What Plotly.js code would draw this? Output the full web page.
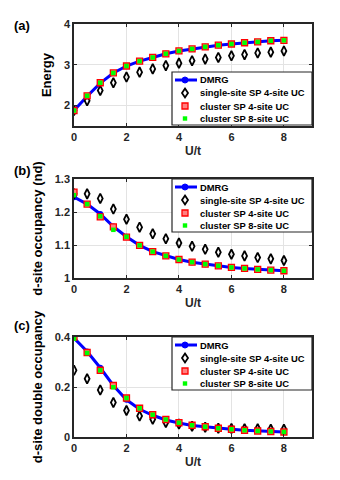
<!DOCTYPE html>
<html>
<head>
<meta charset="utf-8">
<script src="https://cdn.plot.ly/plotly-3.0.1.min.js"></script>
<style>
  body { margin: 0; background: #fff; }
  #grafico { width: 340px; height: 480px; }
</style>
</head>
<body>
<div id="grafico"></div>
<script>
// U/t values shared by every panel
const U = [0, 0.5, 1, 1.5, 2, 2.5, 3, 3.5, 4, 4.5, 5, 5.5, 6, 6.5, 7, 7.5, 8];

// (a) Energy
const energyDMRG   = [1.88, 2.23, 2.55, 2.80, 2.97, 3.09, 3.18, 3.27, 3.34, 3.39, 3.44, 3.48, 3.51, 3.54, 3.56, 3.59, 3.60];
const energySingle = [1.88, 2.12, 2.37, 2.56, 2.70, 2.82, 2.90, 2.98, 3.04, 3.10, 3.14, 3.18, 3.22, 3.25, 3.29, 3.31, 3.34];
const energyC4     = [1.88, 2.24, 2.56, 2.80, 2.97, 3.09, 3.18, 3.27, 3.34, 3.39, 3.44, 3.48, 3.51, 3.54, 3.56, 3.59, 3.60];
const energyC8     = [1.88, 2.24, 2.56, 2.80, 2.97, 3.09, 3.18, 3.27, 3.34, 3.39, 3.44, 3.48, 3.51, 3.54, 3.56, 3.59, 3.60];

// (b) d-site occupancy
const ndDMRG   = [1.245, 1.224, 1.194, 1.156, 1.125, 1.099, 1.080, 1.067, 1.056, 1.048, 1.042, 1.037, 1.032, 1.029, 1.026, 1.024, 1.022];
const ndSingle = [1.255, 1.255, 1.241, 1.209, 1.178, 1.154, 1.134, 1.119, 1.106, 1.096, 1.087, 1.078, 1.072, 1.067, 1.062, 1.058, 1.053];
const ndC4     = [1.260, 1.224, 1.185, 1.155, 1.124, 1.099, 1.080, 1.067, 1.056, 1.048, 1.042, 1.037, 1.032, 1.029, 1.026, 1.024, 1.022];
const ndC8     = [1.251, 1.224, 1.187, 1.146, 1.125, 1.099, 1.080, 1.067, 1.056, 1.048, 1.042, 1.037, 1.032, 1.029, 1.026, 1.024, 1.022];

// (c) d-site double occupancy
const dDMRG   = [0.396, 0.342, 0.277, 0.206, 0.149, 0.111, 0.087, 0.068, 0.056, 0.046, 0.041, 0.035, 0.031, 0.027, 0.024, 0.022, 0.020];
const dSingle = [0.267, 0.233, 0.188, 0.138, 0.106, 0.084, 0.071, 0.058, 0.052, 0.043, 0.039, 0.035, 0.034, 0.033, 0.033, 0.031, 0.031];
const dC4     = [0.400, 0.338, 0.267, 0.206, 0.156, 0.115, 0.089, 0.070, 0.057, 0.047, 0.041, 0.035, 0.031, 0.027, 0.024, 0.022, 0.020];
const dC8     = [0.393, 0.336, 0.267, 0.199, 0.156, 0.115, 0.089, 0.070, 0.057, 0.047, 0.041, 0.035, 0.031, 0.027, 0.024, 0.022, 0.020];

const names = ['DMRG', 'single-site SP 4-site UC', 'cluster SP 4-site UC', 'cluster SP 8-site UC'];
const FONT = 'Liberation Sans, Arial, sans-serif';
const W = 340, H = 480;

function panel(n, ys) {
  const sfx = n === 1 ? '' : String(n);
  const common = { x: U, xaxis: 'x' + sfx, yaxis: 'y' + sfx, showlegend: false, type: 'scatter' };
  return [
    Object.assign({}, common, {
      y: ys[0], name: names[0], mode: 'lines+markers',
      line: { color: '#0000ff', width: 3 },
      marker: { color: '#0000ff', size: 6, symbol: 'circle' }
    }),
    Object.assign({}, common, {
      y: ys[1], name: names[1], mode: 'markers',
      marker: { color: '#000000', size: 7, symbol: 'diamond-tall-open', line: { width: 1.8, color: '#000' } }
    }),
    Object.assign({}, common, {
      y: ys[2], name: names[2], mode: 'markers',
      marker: { color: '#ff8080', size: 6, symbol: 'square', line: { width: 1.3, color: '#ff0000' } }
    }),
    Object.assign({}, common, {
      y: ys[3], name: names[3], mode: 'markers',
      marker: { color: '#00ff00', size: 4.5, symbol: 'square' }
    })
  ];
}

const data = [].concat(
  panel(1, [energyDMRG, energySingle, energyC4, energyC8]),
  panel(2, [ndDMRG, ndSingle, ndC4, ndC8]),
  panel(3, [dDMRG, dSingle, dC4, dC8])
);

const xBase = {
  range: [0, 9.07], tickvals: [0, 2, 4, 6, 8], showline: true, mirror: 'allticks',
  linecolor: '#262626', linewidth: 1.5, ticks: 'inside', ticklen: 3, tickcolor: '#262626',
  showgrid: true, gridcolor: '#e3e3e3', zeroline: false,
  tickfont: { family: FONT, size: 11, color: '#262626', weight: 'bold' },
  title: { text: 'U/t', standoff: 5, font: { family: FONT, size: 12, color: '#262626', weight: 'bold' } }
};
function yAxis(domain, range, tickvals, ticktext, title, anchor) {
  return {
    domain: domain, range: range, tickvals: tickvals, ticktext: ticktext, anchor: anchor,
    showline: true, mirror: 'allticks', linecolor: '#262626', linewidth: 1.5,
    ticks: 'inside', ticklen: 3, tickcolor: '#262626',
    showgrid: true, gridcolor: '#e3e3e3', zeroline: false,
    tickfont: { family: FONT, size: 11, color: '#262626', weight: 'bold' },
    title: { text: title, standoff: 9, font: { family: FONT, size: 13, color: '#000', weight: 'bold' } }
  };
}

// legend box drawn by hand (MATLAB-style compact rows), pixel -> paper
const px = v => v / W, py = v => 1 - v / H;
const shapes = [], annotations = [];
function legendBox(top) {
  const left = 172, right = 312, bottom = top + 53;
  const rows = [top + 8, top + 21, top + 34, top + 46.5];
  shapes.push({ type: 'rect', xref: 'paper', yref: 'paper', x0: px(left), x1: px(right), y0: py(top), y1: py(bottom),
    fillcolor: '#ffffff', line: { color: '#262626', width: 1.2 }, layer: 'above' });
  const cx = 185;
  // DMRG: line + circle
  shapes.push({ type: 'line', xref: 'paper', yref: 'paper', x0: px(175), x1: px(197), y0: py(rows[0]), y1: py(rows[0]),
    line: { color: '#0000ff', width: 3 }, layer: 'above' });
  shapes.push({ type: 'circle', xref: 'paper', yref: 'paper', x0: px(cx - 3), x1: px(cx + 3), y0: py(rows[0] - 3), y1: py(rows[0] + 3),
    fillcolor: '#0000ff', line: { color: '#0000ff', width: 1 }, layer: 'above' });
  // single-site: open diamond
  const r = rows[1];
  shapes.push({ type: 'path', xref: 'paper', yref: 'paper', layer: 'above',
    path: `M ${px(cx)} ${py(r - 4.5)} L ${px(cx + 3)} ${py(r)} L ${px(cx)} ${py(r + 4.5)} L ${px(cx - 3)} ${py(r)} Z`,
    fillcolor: 'rgba(0,0,0,0)', line: { color: '#000', width: 1.8 } });
  // cluster 4-site: red square
  shapes.push({ type: 'rect', xref: 'paper', yref: 'paper', x0: px(cx - 3), x1: px(cx + 3), y0: py(rows[2] - 3), y1: py(rows[2] + 3),
    fillcolor: '#ff8080', line: { color: '#ff0000', width: 1.3 }, layer: 'above' });
  // cluster 8-site: green square
  shapes.push({ type: 'rect', xref: 'paper', yref: 'paper', x0: px(cx - 2.2), x1: px(cx + 2.2), y0: py(rows[3] - 2.2), y1: py(rows[3] + 2.2),
    fillcolor: '#00ff00', line: { width: 0 }, layer: 'above' });
  names.forEach((t, i) => annotations.push({
    text: t, xref: 'paper', yref: 'paper', x: px(198), y: py(rows[i]), xanchor: 'left', yanchor: 'middle',
    showarrow: false, font: { family: FONT, size: 9.4, color: '#000', weight: 'bold' }
  }));
}
legendBox(72);
legendBox(179);
legendBox(337);

[['(a)', 25], ['(b)', 170], ['(c)', 325]].forEach(([t, y]) => annotations.push({
  text: t, xref: 'paper', yref: 'paper', x: px(12), y: py(y), xanchor: 'left', yanchor: 'middle', showarrow: false,
  font: { family: FONT, size: 13, color: '#000', weight: 'bold' }
}));

const xd = [74 / W, 312 / W];
const layout = {
  width: W, height: H,
  margin: { l: 0, r: 0, t: 0, b: 0 },
  paper_bgcolor: '#ffffff', plot_bgcolor: '#ffffff',
  showlegend: false,
  xaxis:  Object.assign({}, xBase, { domain: xd, anchor: 'y' }),
  xaxis2: Object.assign({}, xBase, { domain: xd, anchor: 'y2' }),
  xaxis3: Object.assign({}, xBase, { domain: xd, anchor: 'y3' }),
  yaxis:  yAxis([1 - 126 / H, 1 - 24 / H], [1.5, 4], [2, 3, 4], ['2', '3', '4'], 'Energy', 'x'),
  yaxis2: yAxis([1 - 278 / H, 1 - 179 / H], [1, 1.3], [1, 1.1, 1.2, 1.3], ['1', '1.1', '1.2', '1.3'], 'd-site occupancy (nd)', 'x2'),
  yaxis3: yAxis([1 - 437 / H, 1 - 337 / H], [0, 0.4], [0, 0.2, 0.4], ['0', '0.2', '0.4'], 'd-site double occupancy', 'x3'),
  shapes: shapes,
  annotations: annotations
};

Plotly.newPlot('grafico', data, layout, { displayModeBar: false });
</script>
</body>
</html>
